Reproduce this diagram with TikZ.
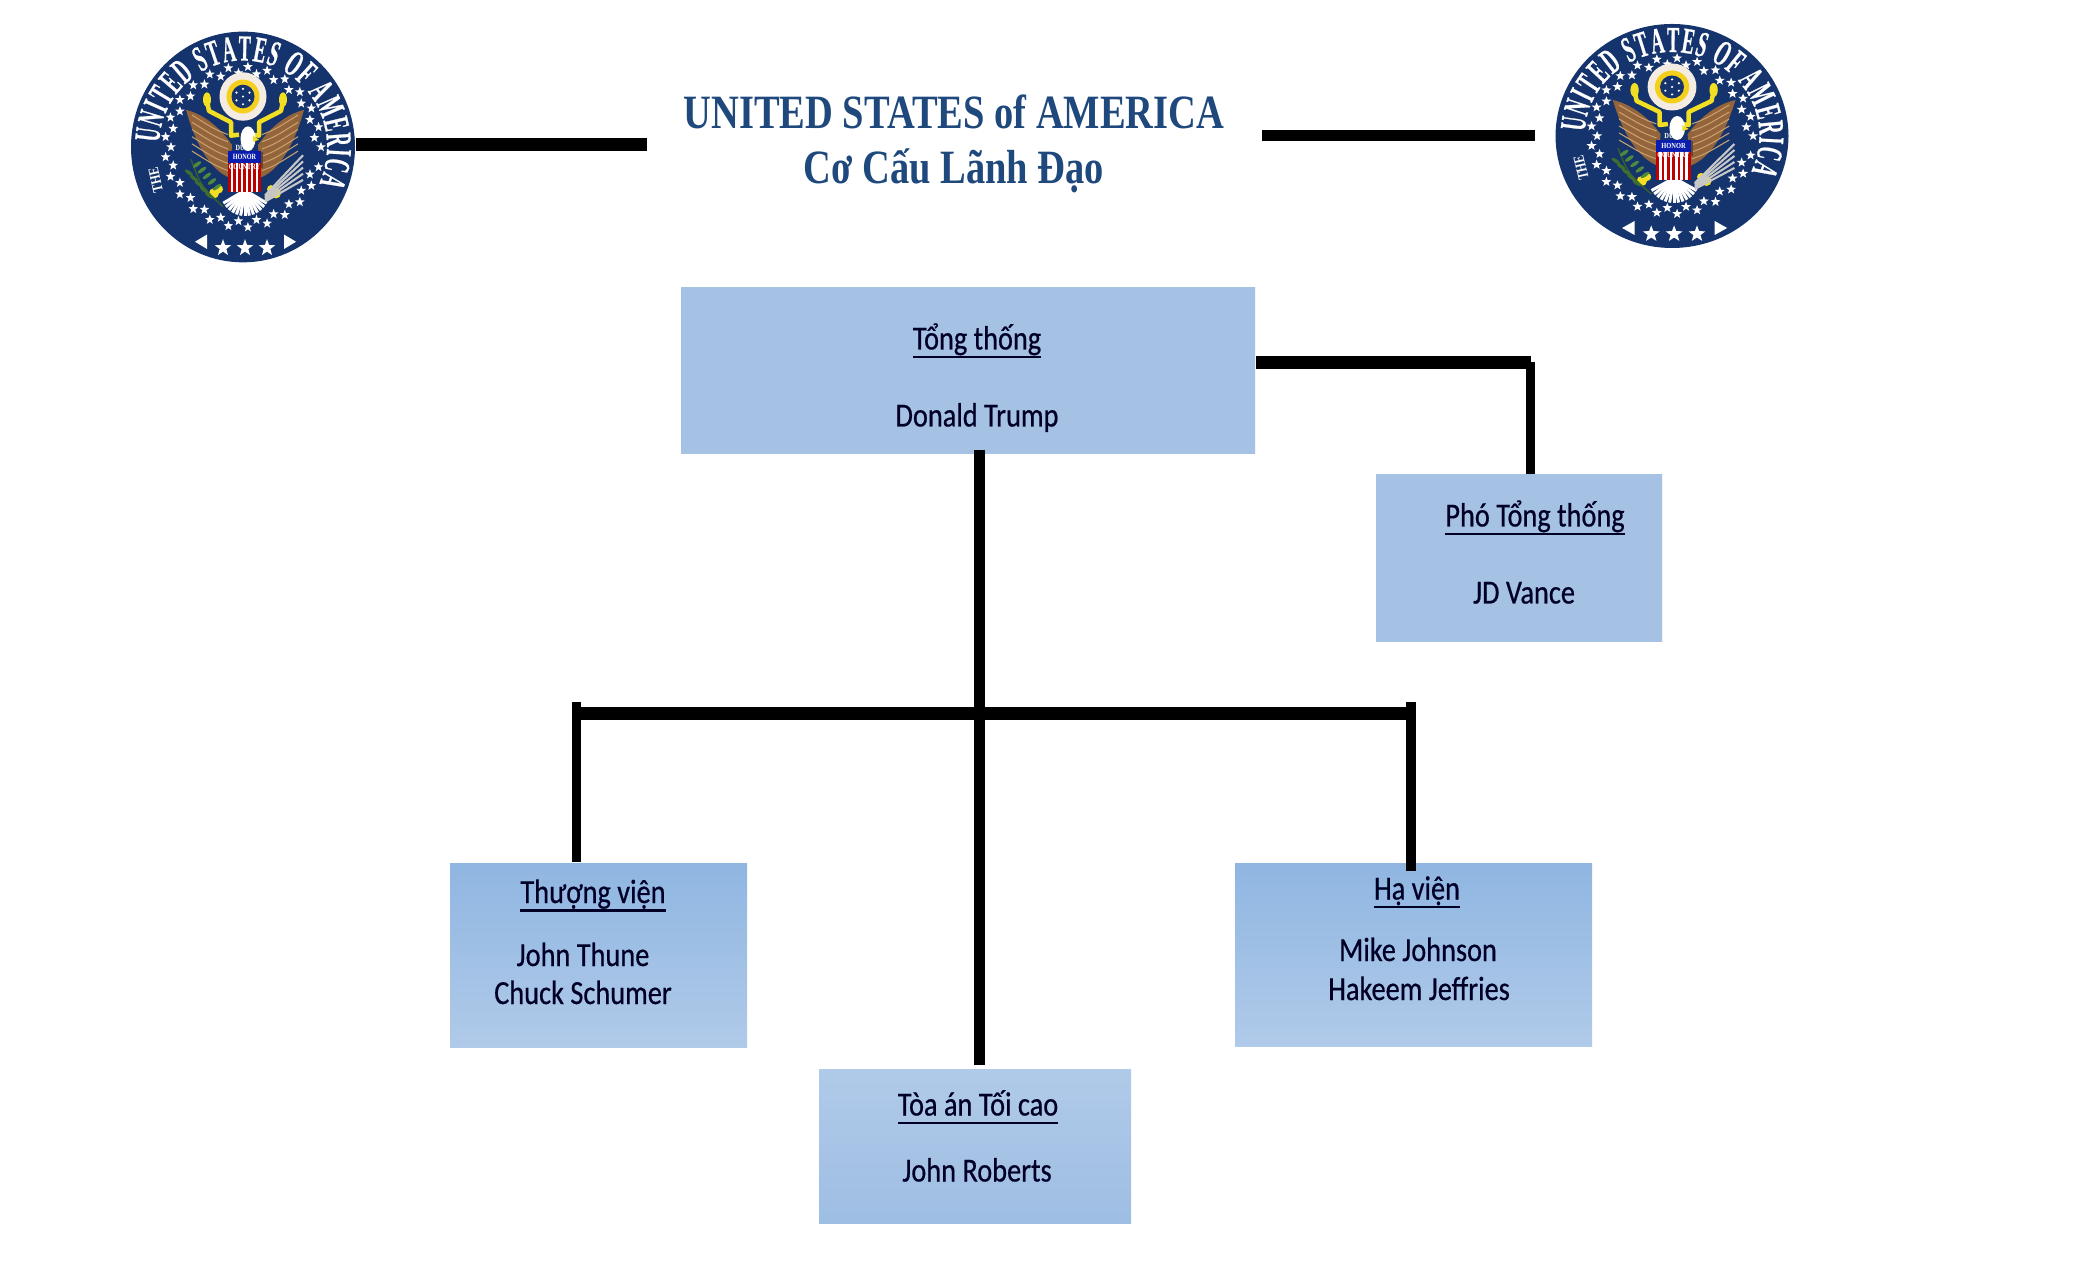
\documentclass[tikz,border=0pt]{standalone}
\usepackage{fontspec}
\usepackage{tikz}
\usetikzlibrary{positioning, shapes.geometric, decorations.text}
\setmainfont[FakeStretch=0.84, FakeBold=0.5]{Carlito}
\newfontfamily\titlefont[FakeStretch=0.805]{Liberation Serif}
\newfontfamily\sealfont[FakeStretch=0.5, FakeBold=0.6]{Liberation Serif}
\newfontfamily\smallfont[FakeStretch=0.8]{Liberation Serif}
\newcommand{\ruled}[1]{\setbox0\hbox{#1}\rlap{\vrule width\wd0 height-1.75pt depth 2.5pt}\box0}
\definecolor{titleblue}{HTML}{1F497D}
\definecolor{sealnavy}{HTML}{15346D}
\definecolor{wingbrown}{HTML}{94653A}
\definecolor{wingtan}{HTML}{C9A070}
\definecolor{gold}{HTML}{F2DE22}
\definecolor{leaf}{HTML}{4E8A3C}
\definecolor{pale}{HTML}{B0CAE9}
\definecolor{soft}{HTML}{A5C1E4}
\definecolor{deep}{HTML}{8FB6E1}
\tikzset{
    orgbox/.style={shape=rectangle, inner sep=0pt},
    paledeep/.style={top color=pale, bottom color=soft!70!deep},
    softmid/.style={top color=soft, middle color=pale, bottom color=soft},
    deeppale/.style={top color=deep, bottom color=pale},
    orgtext/.style={anchor=base, inner sep=0pt, font=\fontsize{9.6pt}{11pt}\selectfont, text=black!85!blue},
    headline/.style={anchor=base, inner sep=0pt, font=\titlefont\bfseries\fontsize{13.6pt}{15pt}\selectfont, text=titleblue},
    link/.style={draw=black, line width=0.13cm},
    drop/.style={draw=black, line width=0.09cm},
    sealstar/.style={shape=star, star points=5, star point ratio=2.4, fill=white, inner sep=0pt, minimum size=0.1cm},
    seal/.pic={
        \node[shape=circle, fill=sealnavy, minimum size=2.24cm, inner sep=0pt] (disc) at (0,0) {};
        % lettering round the rim
        \path[decorate, decoration={text along path, text align={fit to path},
            text={|\sealfont\bfseries\fontsize{10.4pt}{11pt}\selectfont\color{white}|UNITED STATES OF AMERICA}}]
            (177:0.84) arc (177:-25:0.84);
        \node[rotate=103, text=white, inner sep=0pt, font=\smallfont\bfseries\fontsize{4.2pt}{5pt}\selectfont] (the) at (200:0.93) {THE};
        \foreach \a [count=\n] in {0,7.2,...,352} {
            \pgfmathsetmacro{\rr}{mod(\n,2)==0 ? 0.72 : 0.78}
            \node[sealstar] (star\n) at (\a:\rr) {};
        }
        \foreach \x [count=\n] in {-0.2,0.02,0.24} {
            \node[sealstar, minimum size=0.17cm] (big\n) at (\x,-0.98) {};
        }
        \fill[white] (-0.48,-0.92) -- (-0.36,-0.85) -- (-0.36,-0.99) -- cycle;
        \fill[white] (0.53,-0.92) -- (0.41,-0.85) -- (0.41,-0.99) -- cycle;
        % wings
        \foreach \s in {1,-1} {
            \begin{scope}[xshift=0.02cm, xscale=\s]
                \fill[wingbrown] (0.59,0.36) .. controls (0.42,0.32) and (0.26,0.2) .. (0.13,0.02)
                    -- (0.15,-0.3) .. controls (0.36,-0.22) and (0.5,0.05) .. cycle;
                \foreach \t in {0.26,0.19,0.12,0.05,-0.02,-0.09} {
                    \draw[wingtan, line width=0.3pt] (0.17,\t-0.14) .. controls (0.3,\t-0.09) .. (0.53,\t+0.05);
                }
                % banner
                \draw[gold, line width=0.045cm, line join=round] (0.38,0.45) -- (0.36,0.35) -- (0.14,0.24) -- (0.14,0.11) -- (0.06,0.12);
                \fill[gold] (0.38,0.46) ellipse (0.04 and 0.07);
                % talons
                \fill[gold] (0.31,-0.45) circle (0.05) (0.26,-0.41) circle (0.04);
            \end{scope}
        }
        % sun
        \fill[white!80!wingtan] (0,0.49) circle (0.235);
        \fill[gold!85!orange] (0,0.49) circle (0.165);
        \fill[sealnavy] (0,0.49) circle (0.115);
        \foreach \a in {0,60,...,300} {
            \fill[white] (0,0.49) ++(\a+30:0.075) circle (0.012);
        }
        \fill[white] (0,0.49) circle (0.012);
        % head and body
        \fill[white] (0.05,0.08) ellipse (0.075 and 0.12);
        \fill[gold] (0.1,0.11) -- (0.16,0.07) -- (0.1,0.05) -- cycle;
        \fill[wingbrown!70!black] (-0.14,-0.05) rectangle (0.2,-0.2);
        % tail
        \foreach \a in {-150,-140,...,-30} {
            \draw[white, line width=0.03cm] (0.02,-0.42) -- +(\a:0.25);
        }
        % shield
        \fill[white] (-0.15,-0.16) rectangle (0.18,-0.44);
        \foreach \i in {0,2,4,6,8,10,12} {
            \fill[red!75!black] ({-0.15+\i*0.0254},-0.16) rectangle ({-0.15+(\i+1)*0.0254},-0.44);
        }
        \fill[blue!45!sealnavy] (-0.15,-0.04) rectangle (0.18,-0.16);
        \node[text=white, inner sep=0pt, align=center, font=\smallfont\bfseries\fontsize{2.2pt}{2.7pt}\selectfont] (motto) at (0.015,-0.1) {DUTY\\HONOR\\COUNTRY};
        % olive branch
        \draw[leaf!70!black, line width=0.4pt] (-0.52,-0.12) .. controls (-0.42,-0.38) .. (-0.2,-0.58);
        \foreach \t in {-0.5,-0.45,-0.4,-0.35,-0.3} {
            \fill[leaf, rotate around={35:({\t+0.04},{-0.2-(\t+0.5)*1.1+0.03})}] ({\t+0.04},{-0.2-(\t+0.5)*1.1+0.03}) ellipse (0.05 and 0.018);
            \fill[leaf!80!black, rotate around={-35:({\t-0.04},{-0.25-(\t+0.5)*1.1})}] ({\t-0.04},{-0.25-(\t+0.5)*1.1}) ellipse (0.05 and 0.018);
        }
        % arrows
        \foreach \d in {-0.06,-0.03,0,0.03,0.06} {
            \draw[black!22, line width=0.6pt] (0.22,{-0.5+\d/2}) -- (0.6,{-0.2+2*\d});
        }
    }
}
\begin{document}
\begin{tikzpicture}
    \useasboundingbox[fill=white] (0,0) rectangle (20.94,12.73);

    \pic[transform shape, yscale=1.03] (sealL) at (2.43,11.26) {seal};
    \pic[transform shape, xscale=1.04] (sealR) at (16.72,11.37) {seal};

    \node[headline] (head1) at (9.54,11.44) {UNITED STATES of AMERICA};
    \node[headline] (head2) at (9.54,10.89) {Cơ Cấu Lãnh Đạo};
    \coordinate (headL) at (6.47,11.28);
    \coordinate (headR) at (12.62,11.37);
    \coordinate (sealstop) at (15.35,11.37);

    \node[orgbox, softmid, minimum width=5.74cm, minimum height=1.66cm] (president) at (9.68,9.02) {};
    \node[orgbox, softmid, minimum width=2.86cm, minimum height=1.67cm] (vice) at (15.19,7.145) {};
    \node[orgbox, deeppale, minimum width=2.97cm, minimum height=1.84cm] (senate) at (5.985,3.18) {};
    \node[orgbox, paledeep, minimum width=3.12cm, minimum height=1.54cm] (court) at (9.75,1.27) {};
    \node[orgbox, deeppale, minimum width=3.57cm, minimum height=1.83cm] (house) at (14.135,3.185) {};

    \node[orgtext] (presidenttitle) at (9.77,9.235) {\ruled{Tổng thống}};
    \node[orgtext] (presidentname) at (9.77,8.465) {Donald Trump};
    \node[orgtext] (vicetitle) at (15.35,7.465) {\ruled{Phó Tổng thống}};
    \node[orgtext] (vicename) at (15.24,6.695) {JD Vance};
    \node[orgtext] (senatetitle) at (5.93,3.70) {\ruled{Thượng viện}};
    \node[orgtext] (senatename1) at (5.83,3.07) {John Thune};
    \node[orgtext] (senatename2) at (5.83,2.69) {Chuck Schumer};
    \node[orgtext] (courttitle) at (9.78,1.575) {\ruled{Tòa án Tối cao}};
    \node[orgtext] (courtname) at (9.77,0.915) {John Roberts};
    \node[orgtext] (housetitle) at (14.17,3.735) {\ruled{Hạ viện}};
    \node[orgtext] (housename1) at (14.18,3.12) {Mike Johnson};
    \node[orgtext] (housename2) at (14.19,2.73) {Hakeem Jeffries};

    \coordinate (busjoin) at (9.795,5.595);
    \coordinate (busL) at (5.76,5.595);
    \coordinate (busR) at (14.11,5.595);
    \coordinate (viceturn) at (15.305,9.105);

    \draw[link] (sealLdisc.east |- headL) -- (headL);
    \draw[link, line width=0.11cm] (headR) -- (sealstop);
    \draw[link] (president.east |- viceturn) -- (viceturn);
    \draw[drop] (viceturn) -- (viceturn |- vice.north);
    \draw[link, line width=0.11cm, shorten <=-0.05cm, shorten >=0.03cm] (president.south -| busjoin) -- (court.north -| busjoin);
    \draw[link] ([xshift=-0.04cm]busL) -- ([xshift=0.05cm]busR);
    \draw[drop, shorten <=-0.115cm] (busL) -- (busL |- senate.north);
    \draw[drop, line width=0.1cm, shorten <=-0.115cm, shorten >=-0.09cm] (busR) -- (busR |- house.north);
\end{tikzpicture}
\end{document}
